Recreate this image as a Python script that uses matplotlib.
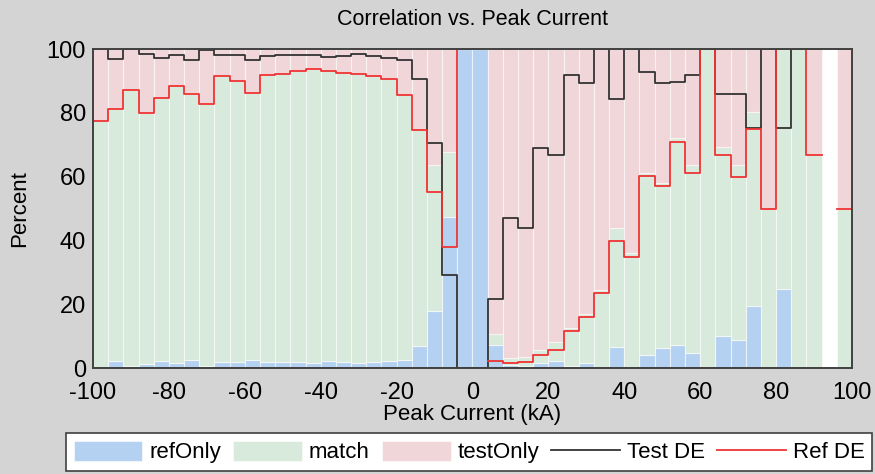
import numpy as np
import matplotlib
matplotlib.use('Agg')
import matplotlib.pyplot as plt

plt.rcParams['font.family'] = ['Liberation Sans', 'DejaVu Sans']
plt.rcParams['axes.unicode_minus'] = False

# 4 kA bins from -100 to 100 kA
edges = np.arange(-100, 101, 4)

# stacked percentages per bin
ref_only = [0.3, 2.1, 0.5, 1.2, 2.1, 1.6, 2.6, 0.7, 1.8, 1.8,
            2.4, 1.8, 1.8, 1.8, 1.5, 2.1, 2.0, 1.5, 2.0, 2.3,
            2.5, 7.0, 18.0, 47.4, 100, 100, 7.3, 1.0, 0.7, 1.5,
            2.1, 0.7, 1.5, 0.2, 6.5, 0.0, 4.2, 6.3, 7.3, 4.6,
            0.0, 9.9, 8.9, 19.4, 0.0, 24.8, 0.0, 0.0, 0.0, 0.0]
match = [77.0, 79.0, 86.5, 78.8, 82.5, 86.7, 83.4, 82.0, 89.6, 88.3,
         83.9, 90.2, 90.3, 91.4, 92.2, 90.9, 90.5, 90.6, 89.5, 88.2,
         83.1, 67.6, 45.6, 20.4, 0.0, 0.0, 3.4, 2.0, 2.8, 4.0,
         5.9, 11.8, 15.5, 24.3, 37.5, 36.0, 56.8, 51.7, 64.7, 59.0,
         100, 59.5, 54.7, 61.0, 50.0, 75.2, 100, 66.8, 0.0, 50.0]
test_only = [22.7, 18.9, 13.0, 20.0, 15.4, 11.7, 14.0, 17.3, 8.6, 9.9,
             13.7, 8.0, 7.9, 6.8, 6.3, 7.0, 7.5, 7.9, 8.5, 9.5,
             14.4, 25.4, 36.4, 32.2, 0.0, 0.0, 89.3, 97.0, 96.5, 94.5,
             92.0, 87.5, 83.0, 75.5, 56.0, 64.0, 39.0, 42.0, 28.0, 36.4,
             0.0, 30.6, 36.4, 19.6, 50.0, 0.0, 0.0, 33.2, 0.0, 50.0]

# detection efficiency curves
test_de = [100, 97.0, 100, 98.4, 97.2, 98.0, 96.6, 99.7, 98.2, 98.0,
           96.6, 97.9, 98.0, 98.1, 98.2, 97.5, 97.8, 98.4, 97.7, 97.2,
           96.4, 90.6, 70.4, 29.2, 0.0, 0.0, 21.7, 46.9, 44.0, 69.1,
           66.8, 91.9, 89.3, 100, 84.3, 100, 92.7, 89.3, 89.6, 91.9,
           100, 86.0, 86.0, 75.2, 100, 75.2, 100, 100, np.nan, 100]
ref_de = [77.3, 81.1, 87.0, 80.0, 84.6, 88.3, 86.0, 82.7, 91.4, 90.1,
          86.3, 92.0, 92.1, 93.2, 93.7, 93.0, 92.5, 92.1, 91.5, 90.5,
          85.6, 74.6, 55.2, 37.9, 100, np.nan, 2.3, 1.5, 1.8, 4.2,
          5.5, 11.7, 16.1, 23.5, 39.8, 34.8, 60.2, 57.2, 71.0, 61.2,
          100, 66.8, 60.0, 74.8, 50.0, 100, 100, 66.8, np.nan, 50.0]

ref_only = np.array(ref_only)
match = np.array(match)
test_only = np.array(test_only)

fig = plt.figure(figsize=(8.75, 4.74), dpi=100, facecolor='#d4d4d4')
ax = fig.add_axes([0.1063, 0.2236, 0.8674, 0.673])
ax.set_facecolor('white')

left = edges[:-1]
w = np.diff(edges)
ec = (1, 1, 1, 0.55)
b1 = ax.bar(left, ref_only, width=w, align='edge', color='#b5d1f1',
            edgecolor=ec, linewidth=0.8, label='refOnly')
b2 = ax.bar(left, match, width=w, align='edge', bottom=ref_only, color='#d7eadb',
            edgecolor=ec, linewidth=0.8, label='match')
b3 = ax.bar(left, test_only, width=w, align='edge', bottom=ref_only + match,
            color='#f0d6d8', edgecolor=ec, linewidth=0.8, label='testOnly')

l1, = ax.step(edges, list(test_de) + [test_de[-1]], where='post', color='#333333',
              lw=1.3, label='Test DE')
l2, = ax.step(edges, list(ref_de) + [ref_de[-1]], where='post', color='#ee3333',
              lw=1.3, label='Ref DE')

ax.set_xlim(-100, 100)
ax.set_ylim(0, 100)
ax.set_xticks(np.arange(-100, 101, 20))
ax.set_yticks(np.arange(0, 101, 20))
ax.tick_params(labelsize=17, length=0)
ax.tick_params(axis='x', pad=10)
ax.tick_params(axis='y', pad=5)
for s in ax.spines.values():
    s.set_color('#404040')
    s.set_linewidth(1.4)

ax.set_title('Correlation vs. Peak Current', fontsize=15.5, pad=17)
ax.set_xlabel('Peak Current (kA)', fontsize=16, labelpad=0)
ax.set_ylabel('Percent', fontsize=16, labelpad=12)

leg = fig.legend([b1, b2, b3, l1, l2], ['refOnly', 'match', 'testOnly', 'Test DE', 'Ref DE'],
                 loc='upper center', bbox_to_anchor=(0.536, 0.0865),
                 ncol=5, fontsize=16, frameon=True, fancybox=False,
                 handlelength=3.1, handleheight=1.0, borderaxespad=0,
                 columnspacing=0.55, handletextpad=0.3, borderpad=0.35)
leg.get_frame().set_edgecolor('#404040')
leg.get_frame().set_linewidth(1.2)
leg.get_frame().set_alpha(1)

fig.savefig('out.png', dpi=100, facecolor=fig.get_facecolor())
